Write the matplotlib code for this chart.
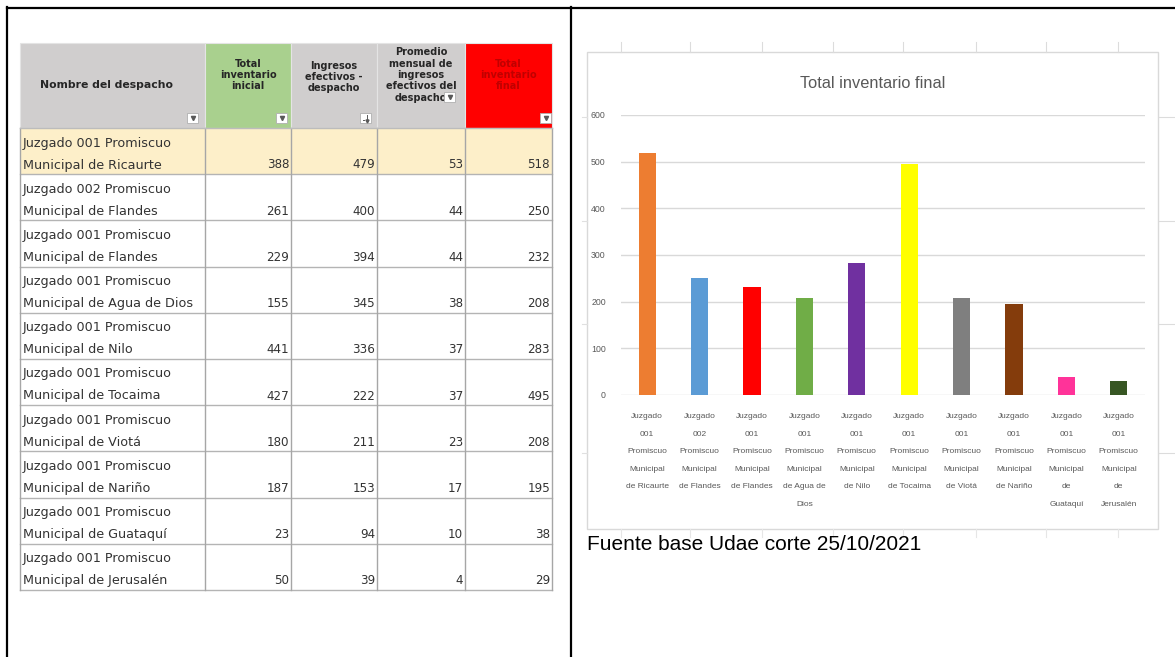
import matplotlib
matplotlib.use('Agg')
import matplotlib.pyplot as plt
from matplotlib.patches import Rectangle

# datos de la tabla (base Udae, corte 25/10/2021)
nombres = ['Juzgado 001 Promiscuo\nMunicipal de Ricaurte',
           'Juzgado 002 Promiscuo\nMunicipal de Flandes',
           'Juzgado 001 Promiscuo\nMunicipal de Flandes',
           'Juzgado 001 Promiscuo\nMunicipal de Agua de Dios',
           'Juzgado 001 Promiscuo\nMunicipal de Nilo',
           'Juzgado 001 Promiscuo\nMunicipal de Tocaima',
           'Juzgado 001 Promiscuo\nMunicipal de Viotá',
           'Juzgado 001 Promiscuo\nMunicipal de Nariño',
           'Juzgado 001 Promiscuo\nMunicipal de Guataquí',
           'Juzgado 001 Promiscuo\nMunicipal de Jerusalén']
inv_inicial = [388, 261, 229, 155, 441, 427, 180, 187, 23, 50]
ingresos = [479, 400, 394, 345, 336, 222, 211, 153, 94, 39]
promedio = [53, 44, 44, 38, 37, 37, 23, 17, 10, 4]
inv_final = [518, 250, 232, 208, 283, 495, 208, 195, 38, 29]

encabezados = ['Nombre del despacho',
               'Total\ninventario\ninicial',
               'Ingresos\nefectivos -\ndespacho',
               'Promedio\nmensual de\ningresos\nefectivos del\ndespacho',
               'Total\ninventario\nfinal']

etiquetas = ['Juzgado\n001\nPromiscuo\nMunicipal\nde Ricaurte',
             'Juzgado\n002\nPromiscuo\nMunicipal\nde Flandes',
             'Juzgado\n001\nPromiscuo\nMunicipal\nde Flandes',
             'Juzgado\n001\nPromiscuo\nMunicipal\nde Agua de\nDios',
             'Juzgado\n001\nPromiscuo\nMunicipal\nde Nilo',
             'Juzgado\n001\nPromiscuo\nMunicipal\nde Tocaima',
             'Juzgado\n001\nPromiscuo\nMunicipal\nde Viotá',
             'Juzgado\n001\nPromiscuo\nMunicipal\nde Nariño',
             'Juzgado\n001\nPromiscuo\nMunicipal\nde\nGuataquí',
             'Juzgado\n001\nPromiscuo\nMunicipal\nde\nJerusalén']
colores = ['#ed7d31', '#5b9bd5', '#ff0000', '#70ad47', '#7030a0',
           '#ffff00', '#7f7f7f', '#843c0c', '#ff3399', '#375623']

W, H = 1175, 657
SANS = 'Liberation Sans'

fig = plt.figure(figsize=(W / 100, H / 100), dpi=100)
bg = fig.add_axes([0, 0, 1, 1])
bg.set_xlim(0, W)
bg.set_ylim(H, 0)
bg.axis('off')

# marco del documento
bg.plot([7, 7], [7, H], color='black', lw=1.6)
bg.plot([7, W], [7.5, 7.5], color='black', lw=1.6)
bg.plot([571, 571], [7, H], color='black', lw=1.6)

# ---------- tabla ----------
cols = [20, 205, 291, 377, 465, 552]
h_top, h_bot = 43, 128
row_h = 46.2
fondos = ['#d0cece', '#a9d08e', '#d0cece', '#d0cece', '#ff0000']
txt_col = ['#262626', '#262626', '#262626', '#262626', '#c00000']
y_enc = [85, 75, 77, 75, 75]

for j in range(5):
    x0, x1 = cols[j], cols[j + 1]
    bg.add_patch(Rectangle((x0, h_top), x1 - x0, h_bot - h_top,
                           facecolor=fondos[j], edgecolor='#e4e4e4', lw=0.8))
    cx = (x0 + x1) / 2 if j else 106
    bg.text(cx, y_enc[j], encabezados[j], ha='center', va='center',
            fontsize=7.8 if j == 0 else 7, fontweight='bold',
            color=txt_col[j], linespacing=1.18)

# botones de filtro
botones = [(187, 113, 'v'), (276, 113, 'v'), (360, 113, 'arrow'),
           (444, 92, 'v'), (540, 113, 'v')]
for bx, by, s in botones:
    bg.add_patch(Rectangle((bx, by), 11, 10, facecolor='white',
                           edgecolor='#b0b0b0', lw=0.6, zorder=4))
    if s == 'v':
        bg.plot(bx + 5.5, by + 5, marker='v', ms=3, color='#595959',
                zorder=5)
    else:
        bg.plot([bx + 7, bx + 7], [by + 2, by + 7], color='#595959',
                lw=0.7, zorder=5)
        bg.plot(bx + 7, by + 7.5, marker='v', ms=2.2, color='#595959',
                zorder=5)
        bg.plot([bx + 2.5, bx + 3.5], [by + 7, by + 7], color='#595959',
                lw=0.7, zorder=5)

# filas
for i in range(len(nombres)):
    top = h_bot + i * row_h
    if i == 0:
        bg.add_patch(Rectangle((cols[0], top), cols[-1] - cols[0], row_h,
                               facecolor='#fdefc9', edgecolor='none'))
    l1, l2 = nombres[i].split('\n')
    bg.text(23, top + 15, l1, ha='left', va='center', fontsize=9.2,
            color='#333333')
    bg.text(23, top + 37, l2, ha='left', va='center', fontsize=9.2,
            color='#333333')
    vals = [inv_inicial[i], ingresos[i], promedio[i], inv_final[i]]
    for j, v in enumerate(vals):
        bg.text(cols[j + 2] - 2, top + 37, str(v), ha='right', va='center',
                fontsize=8.6, color='#333333')
    bg.plot([cols[0], cols[-1]], [top + row_h, top + row_h],
            color='#b4b4b4', lw=1)

t_bot = h_bot + len(nombres) * row_h
for x in cols:
    bg.plot([x, x], [h_bot, t_bot], color='#a6a6a6', lw=1)
bg.plot([cols[0], cols[-1]], [h_bot, h_bot], color='#bcbcbc', lw=1)

# ---------- grafico ----------
# restos de cuadricula de la hoja alrededor del grafico
for x in [621, 690, 762, 833, 903, 976, 1046, 1118]:
    bg.plot([x, x], [42, 52], color='#dcdcdc', lw=0.8)
    bg.plot([x, x], [529, 537], color='#e6e6e6', lw=0.8)
for y in [117, 221, 324, 453]:
    bg.plot([1159, W], [y, y], color='#dcdcdc', lw=0.8)
    bg.plot([582, 587], [y, y], color='#e0e0e0', lw=0.8)

bg.add_patch(Rectangle((587, 52), 571, 477, facecolor='white',
                       edgecolor='#d9d9d9', lw=1))
bg.text(873, 83, 'Total inventario final', ha='center', va='center',
        fontsize=11.8, color='#595959', family=SANS)

ax = fig.add_axes([621 / W, 1 - 395 / H, 524 / W, 280 / H])
ax.bar(range(len(inv_final)), inv_final, width=0.33, color=colores,
       zorder=3)
ax.set_xlim(-0.5, len(inv_final) - 0.5)
ax.set_ylim(0, 600)
ax.set_yticks(range(0, 601, 100))
ax.set_xticks(range(len(inv_final)))
ax.set_xticklabels(etiquetas, family=SANS, fontsize=6, color='#595959',
                   linespacing=3.1)
for lbl in ax.get_yticklabels():
    lbl.set_family(SANS)
    lbl.set_fontsize(6.3)
    lbl.set_color('#595959')
ax.tick_params(length=0)
ax.tick_params(axis='y', pad=11)
ax.tick_params(axis='x', pad=13)
ax.grid(axis='y', color='#d9d9d9', lw=1)
ax.set_axisbelow(True)
for s in ax.spines.values():
    s.set_visible(False)
ax.patch.set_alpha(0)

bg.text(587, 545, 'Fuente base Udae corte 25/10/2021', ha='left',
        va='center', fontsize=15, family=SANS, color='black')

fig.savefig('out.png', dpi=100)
